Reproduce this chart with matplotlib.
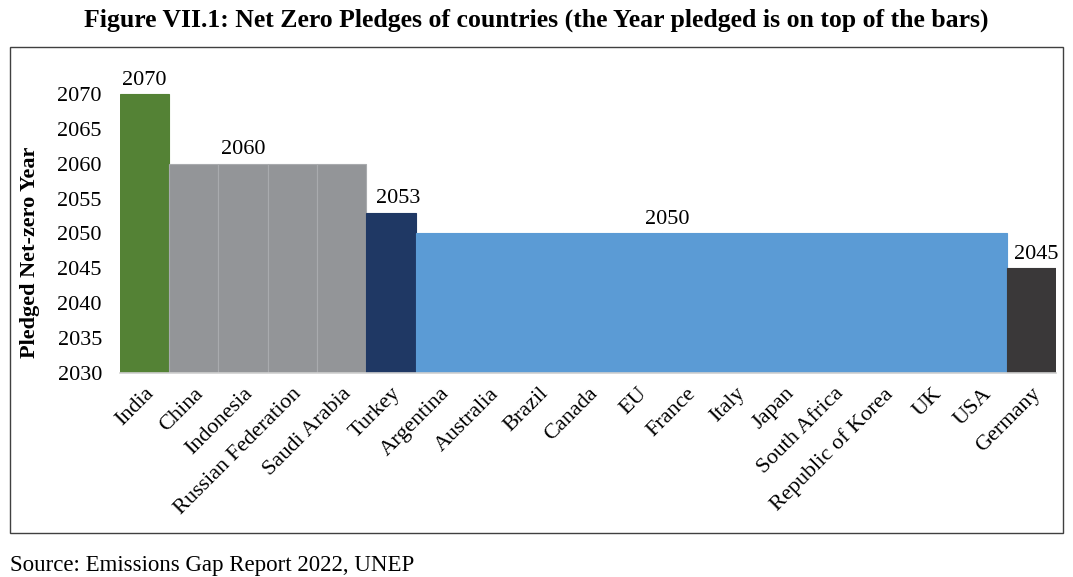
import matplotlib.pyplot as plt
from matplotlib.patches import Rectangle

# data
countries = ["India", "China", "Indonesia", "Russian Federation", "Saudi Arabia",
             "Turkey", "Argentina", "Australia", "Brazil", "Canada", "EU", "France",
             "Italy", "Japan", "South Africa", "Republic of Korea", "UK", "USA", "Germany"]
years = [2070, 2060, 2060, 2060, 2060, 2053] + [2050] * 12 + [2045]
yticks = [2030, 2035, 2040, 2045, 2050, 2055, 2060, 2065, 2070]

# annotated years and where they sit (category position)
label_years = [2070, 2060, 2053, 2050, 2045]
label_pos = [0.0, 2.0, 5.15, 10.6, 18.1]

colors = ["#548235"] + ["#939598"] * 4 + ["#1f3864"] + ["#5b9bd5"] * 12 + ["#3a3839"]
edges = ["#548235"] + ["#a9abae"] * 4 + ["#1f3864"] + ["#5b9bd5"] * 12 + ["#3a3839"]

plt.rcParams["font.family"] = ["Liberation Serif", "DejaVu Serif"]
fs = 16

fig = plt.figure(figsize=(10.73, 5.77), dpi=100)
ax = fig.add_axes([0.1118, 0.3536, 0.8723, 0.5441])

base = yticks[0]
x = range(len(countries))
ax.bar(x, [y - base for y in years], bottom=base, width=1.0,
       color=colors, edgecolor=edges, linewidth=0.8)

for yr, p in zip(label_years, label_pos):
    ax.text(p, yr + 0.6, str(yr), ha="center", va="bottom", fontsize=fs)

ax.set_xlim(-0.5, len(countries) - 0.5)
ax.set_ylim(2030, 2075)
ax.set_yticks(yticks)
ax.set_yticklabels([str(t) for t in yticks], fontsize=fs)
ax.set_xticks(list(x))
ax.set_xticklabels(countries, rotation=45, ha="right", rotation_mode="anchor",
                   fontsize=fs)
ax.tick_params(length=0, axis="y", pad=13)
ax.tick_params(length=0, axis="x", pad=8)
ax.set_ylabel("Pledged Net-zero Year", fontsize=fs, fontweight="bold")
ax.yaxis.set_label_coords(-0.085, 0.385)

for s in ["top", "right", "left"]:
    ax.spines[s].set_visible(False)
ax.spines["bottom"].set_color("#d0d0d0")
ax.spines["bottom"].set_linewidth(1.2)

# frame round the chart
fig.patches.append(Rectangle((10 / 1073, 1 - 533 / 577), 1053 / 1073, 486 / 577,
                             transform=fig.transFigure, fill=False,
                             edgecolor="#404040", linewidth=1.0))

fig.text(0.5, 1 - 20 / 577, "Figure VII.1: Net Zero Pledges of countries (the Year pledged is on top of the bars)",
         ha="center", va="center", fontsize=18.5, fontweight="bold")
fig.text(10 / 1073, 1 - 565 / 577, "Source: Emissions Gap Report 2022, UNEP",
         ha="left", va="center", fontsize=16.5)

fig.savefig("out.png", dpi=100)
